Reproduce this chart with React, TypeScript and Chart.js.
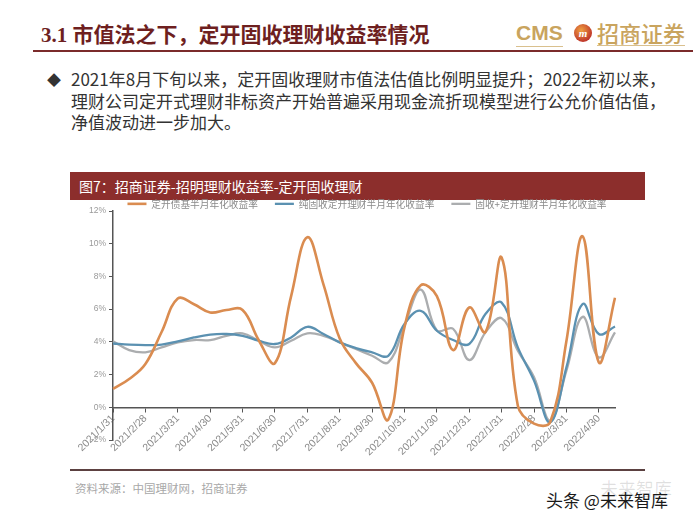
import React, { useEffect, useRef } from "react";
import { Chart, registerables } from "chart.js";

Chart.register(...registerables);

const labels = [
  "2021/1/31", "2021/2/15", "2021/2/28", "2021/3/15", "2021/3/31", "2021/4/15",
  "2021/4/30", "2021/5/15", "2021/5/31", "2021/6/15", "2021/6/30", "2021/7/15",
  "2021/7/31", "2021/8/15", "2021/8/31", "2021/9/15", "2021/9/30", "2021/10/15",
  "2021/10/31", "2021/11/15", "2021/11/30", "2021/12/15", "2021/12/31", "2022/1/15",
  "2022/1/31", "2022/2/15", "2022/2/28", "2022/3/15", "2022/3/31", "2022/4/15",
  "2022/4/30", "2022/5/15",
];

const bondFundYield = [
  1.12, 1.73, 2.65, 4.6, 6.65, 6.3, 5.8, 5.95, 5.95, 4.1, 2.7, 6.8,
  10.4, 7.5, 4.2, 2.7, 1.5, -0.75, 4.9, 7.45, 6.8, 3.5, 6.1, 4.6,
  9.15, 0.1, -1.0, -0.9, 4.05, 10.45, 2.75, 6.7,
];

const pureFixedYield = [
  3.9, 3.83, 3.8, 3.83, 4.03, 4.27, 4.44, 4.48, 4.37, 4.07, 3.87, 4.27,
  4.92, 4.48, 3.97, 3.62, 3.36, 3.15, 5.09, 5.9, 4.68, 4.11, 3.87, 5.7,
  6.4, 3.66, 1.63, -0.92, 2.44, 6.31, 4.48, 4.94,
];

const fixedPlusYield = [
  4.03, 3.5, 3.36, 3.66, 3.97, 4.11, 4.11, 4.37, 4.52, 4.07, 3.66, 4.07,
  4.52, 4.37, 3.97, 3.56, 3.15, 2.75, 4.98, 7.2, 4.7, 4.8, 2.89, 4.58,
  5.45, 3.46, 1.83, -0.81, 2.24, 5.53, 3.05, 4.58,
];

const seriesNames = [
  "定开债基半月年化收益率",
  "纯固收定开理财半月年化收益率",
  "固收+定开理财半月年化收益率",
];

const yMin = -2;
const yMax = 12;
const yStep = 2;

const CJK = '"Noto Sans CJK SC", "Liberation Sans", sans-serif';

function ChartBox() {
  const ref = useRef<HTMLCanvasElement | null>(null);
  useEffect(() => {
    if (!ref.current) return;
    const chart = new Chart(ref.current, {
      type: "line",
      data: {
        labels,
        datasets: [
          {
            label: seriesNames[0],
            data: bondFundYield,
            borderColor: "#da8c50",
            backgroundColor: "#da8c50",
            borderWidth: 2.6,
            pointRadius: 0,
            tension: 0.4,
          },
          {
            label: seriesNames[1],
            data: pureFixedYield,
            borderColor: "#5b91b1",
            backgroundColor: "#5b91b1",
            borderWidth: 2.3,
            pointRadius: 0,
            tension: 0.4,
          },
          {
            label: seriesNames[2],
            data: fixedPlusYield,
            borderColor: "#abadaf",
            backgroundColor: "#abadaf",
            borderWidth: 2.3,
            pointRadius: 0,
            tension: 0.4,
          },
        ],
      },
      options: {
        animation: false,
        responsive: false,
        maintainAspectRatio: false,
        layout: { padding: { left: 0, right: 0, top: 0, bottom: 30 } },
        plugins: {
          tooltip: { enabled: false },
          legend: {
            position: "top",
            maxHeight: 29,
            labels: {
              usePointStyle: true,
              pointStyle: "line",
              pointStyleWidth: 19,
              boxHeight: 9,
              padding: 17,
              color: "#8a8a8a",
              font: { size: 9.7, family: CJK },
            },
          },
        },
        scales: {
          x: {
            type: "category",
            position: { y: 0 } as any,
            offset: false,
            grid: {
              drawOnChartArea: false,
              drawTicks: true,
              tickLength: 4,
              color: "#555",
              lineWidth: 1,
            },
            border: { color: "#555", width: 1.5 },
            ticks: {
              autoSkip: false,
              maxRotation: 45,
              minRotation: 45,
              color: "#8a8a8a",
              padding: 1,
              font: { size: 10.5, family: '"Liberation Sans", Arial, sans-serif' },
              callback: (_v: any, i: number) => (i % 2 === 0 ? labels[i] : null),
            },
          },
          y: {
            min: yMin,
            max: yMax,
            grid: {
              drawOnChartArea: false,
              drawTicks: true,
              tickLength: 4,
              color: "#555",
            },
            border: { color: "#555", width: 1.5 },
            ticks: {
              stepSize: yStep,
              color: "#9a9a9a",
              padding: 3,
              font: { size: 8.5, family: '"Liberation Sans", Arial, sans-serif' },
              callback: (v: any) => `${v}%`,
            },
            afterFit: (s: any) => {
              s.width = 53;
            },
          },
          yR: {
            position: "right",
            display: true,
            grid: { display: false },
            border: { display: false },
            ticks: { display: false },
            afterFit: (s: any) => {
              s.width = 59;
            },
          },
        },
      },
    } as any);
    return () => chart.destroy();
  }, []);
  return (
    <canvas
      ref={ref}
      width={614}
      height={288}
      style={{ position: "absolute", left: 60, top: 182, width: 614, height: 288 }}
    />
  );
}

export default function App() {
  return (
    <div
      style={{
        position: "fixed",
        left: 0,
        top: 0,
        width: 700,
        height: 525,
        background: "#fff",
        overflow: "hidden",
        fontFamily: CJK,
      }}
    >
      {/* Header title */}
      <div
        style={{
          position: "absolute",
          left: 41,
          top: 23,
          fontSize: 21,
          lineHeight: "24px",
          fontWeight: 700,
          color: "#6e1f1f",
          whiteSpace: "nowrap",
          fontFamily: '"Liberation Serif", "Noto Sans CJK SC", serif',
        }}
      >
        3.1 市值法之下，定开固收理财收益率情况
      </div>
      {/* Logo */}
      <div
        style={{
          position: "absolute",
          left: 516,
          top: 21,
          fontSize: 21,
          lineHeight: "24px",
          fontWeight: 700,
          color: "#c9a45e",
          fontFamily: '"Liberation Sans", Arial, sans-serif',
          borderBottom: "1px solid #d9c08e",
          paddingBottom: 1,
        }}
      >
        CMS
      </div>
      <div
        style={{
          position: "absolute",
          left: 574,
          top: 24,
          width: 18,
          height: 18,
          borderRadius: 9,
          background: "radial-gradient(circle at 40% 35%, #f0a040, #c0392b 70%)",
          color: "#fff",
          fontSize: 11,
          lineHeight: "18px",
          textAlign: "center",
          fontStyle: "italic",
          fontWeight: 700,
          fontFamily: '"Liberation Serif", serif',
        }}
      >
        m
      </div>
      <div
        style={{
          position: "absolute",
          left: 597,
          top: 20,
          fontSize: 22,
          lineHeight: "25px",
          fontWeight: 500,
          color: "#c9a45e",
          whiteSpace: "nowrap",
          borderBottom: "1px solid #d9c08e",
          paddingBottom: 0,
        }}
      >
        招商证券
      </div>
      {/* Divider */}
      <div
        style={{
          position: "absolute",
          left: 33,
          top: 50,
          width: 660,
          height: 2,
          background: "#7b2b2b",
        }}
      />
      {/* Bullet text */}
      <div
        style={{
          position: "absolute",
          left: 47,
          top: 70,
          fontSize: 14,
          lineHeight: "18px",
          color: "#333",
        }}
      >
        ◆
      </div>
      {[
        "2021年8月下旬以来，定开固收理财市值法估值比例明显提升；2022年初以来，",
        "理财公司定开式理财非标资产开始普遍采用现金流折现模型进行公允价值估值，",
        "净值波动进一步加大。",
      ].map((t, i) => (
        <div
          key={i}
          style={{
            position: "absolute",
            left: 71,
            top: 68 + i * 21.5,
            fontSize: 17,
            lineHeight: "22px",
            color: "#333",
            whiteSpace: "nowrap",
          }}
        >
          {t}
        </div>
      ))}
      {/* Figure title bar */}
      <div
        style={{
          position: "absolute",
          left: 70,
          top: 172,
          width: 575,
          height: 28,
          background: "#8c2e2c",
          color: "#fff",
          fontSize: 14,
          lineHeight: "28px",
          paddingLeft: 9,
          boxSizing: "border-box",
          whiteSpace: "nowrap",
        }}
      >
        图7：招商证券-招明理财收益率-定开固收理财
      </div>
      <ChartBox />
      {/* Bottom rule */}
      <div
        style={{
          position: "absolute",
          left: 70,
          top: 469,
          width: 575,
          height: 2,
          background: "linear-gradient(90deg, #5a4040, #7a4a4a 50%, #5a4040)",
        }}
      />
      <div
        style={{
          position: "absolute",
          left: 75,
          top: 480,
          fontSize: 11.5,
          lineHeight: "16px",
          color: "#a8a8a8",
          whiteSpace: "nowrap",
        }}
      >
        资料来源：中国理财网，招商证券
      </div>
      {/* Watermarks */}
      <div
        style={{
          position: "absolute",
          left: 600,
          top: 478,
          fontSize: 18,
          lineHeight: "20px",
          color: "rgba(0,0,0,0.12)",
          whiteSpace: "nowrap",
        }}
      >
        未来智库
      </div>
      <div
        style={{
          position: "absolute",
          left: 546,
          top: 490,
          fontSize: 17,
          lineHeight: "20px",
          color: "#1a1a1a",
          whiteSpace: "nowrap",
        }}
      >
        头条 @未来智库
      </div>
    </div>
  );
}
